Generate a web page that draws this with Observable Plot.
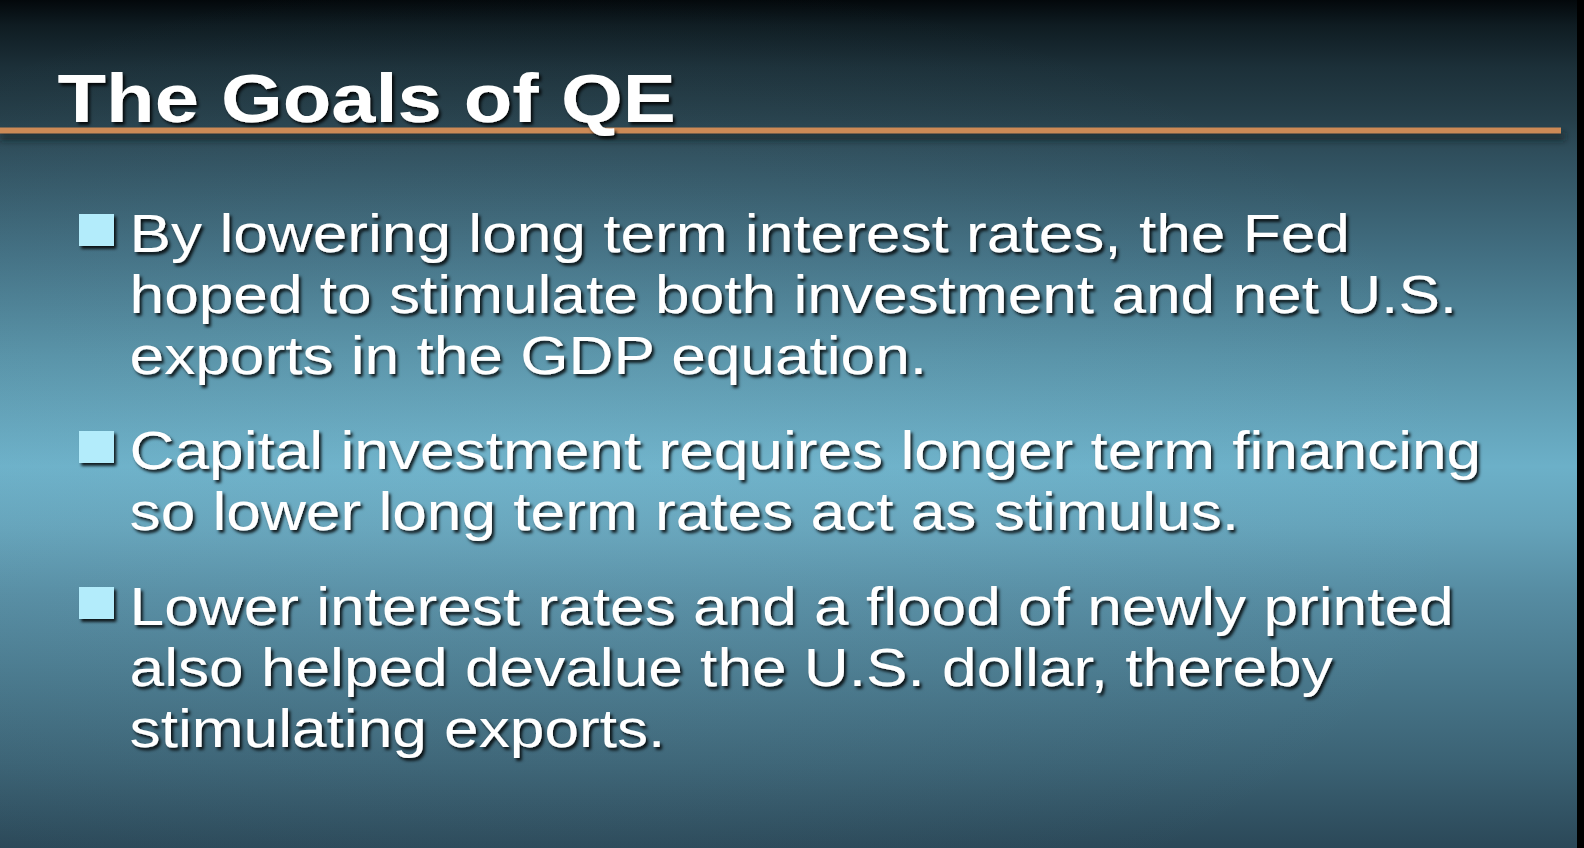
<!DOCTYPE html>
<html>
<head>
<meta charset="utf-8">
<script src="https://cdn.jsdelivr.net/npm/d3@7"></script>
<script src="https://cdn.jsdelivr.net/npm/@observablehq/plot@0.6"></script>
<style>
  html, body { margin: 0; padding: 0; background: #000; overflow: hidden; }
  #slide svg { display: block; }
</style>
</head>
<body>
<div id="slide"></div>
<script>
// ---- content ----
const title = "The Goals of QE";
const bullet1 = [
  "By lowering long term interest rates, the Fed",
  "hoped to stimulate both investment and net U.S.",
  "exports in the GDP equation."
];
const bullet2 = [
  "Capital investment requires longer term financing",
  "so lower long term rates act as stimulus."
];
const bullet3 = [
  "Lower interest rates and a flood of newly printed",
  "also helped devalue the U.S. dollar, thereby",
  "stimulating exports."
];
const bullets = [bullet1, bullet2, bullet3];

// background gradient (top to bottom)
const bgOffsets = [0, 0.03, 0.08, 0.14, 0.18, 0.30, 0.42, 0.55, 0.62, 0.70, 0.80, 0.90, 1];
const bgColors = ["#03080b", "#0f1c22", "#1c3039", "#263f4a", "#2f4e5c", "#426f82", "#5791a6",
                  "#6cb0c8", "#65a3ba", "#568ca2", "#48778b", "#3b6274", "#2b4858"];

// ---- layout ----
const PAGE_W = 1584, PAGE_H = 848;
const STRETCH = 1.152;              // the slide is shown horizontally stretched
const W = Math.round(PAGE_W / STRETCH);
const SLIDE_RIGHT = 1577;
const FIRST_BASELINE = 251, LINE_STEP = 61, PARA_GAP = 34;

const lines = [];
const squares = [];
let yb = FIRST_BASELINE;
bullets.forEach((b, bi) => {
  squares.push({bullet: bi, base: yb});
  b.forEach((t, li) => {
    lines.push({bullet: bi, line: li, text: t, base: yb});
    yb += LINE_STEP;
  });
  yb += PARA_GAP;
});

const defs = () => {
  const d = d3.create("svg:defs");
  const lg = d.append("linearGradient").attr("id", "bg")
    .attr("x1", 0).attr("x2", 0).attr("y1", 0).attr("y2", 1);
  bgOffsets.forEach((o, i) => lg.append("stop").attr("offset", o).attr("stop-color", bgColors[i]));
  const rg = d.append("radialGradient").attr("id", "glow")
    .attr("cx", 0.35).attr("cy", 0.56).attr("r", 0.6);
  rg.append("stop").attr("offset", 0).attr("stop-color", "#9fd8ea").attr("stop-opacity", 0.10);
  rg.append("stop").attr("offset", 1).attr("stop-color", "#9fd8ea").attr("stop-opacity", 0);
  const f = d.append("filter").attr("id", "shadow").attr("filterUnits", "userSpaceOnUse")
    .attr("x", 0).attr("y", 0).attr("width", W).attr("height", PAGE_H);
  f.append("feDropShadow").attr("dx", 2).attr("dy", 2.8).attr("stdDeviation", 1.4)
    .attr("flood-color", "#000").attr("flood-opacity", 0.85);
  const fb = d.append("filter").attr("id", "blur").attr("filterUnits", "userSpaceOnUse")
    .attr("x", 0).attr("y", 100).attr("width", W).attr("height", 80);
  fb.append("feGaussianBlur").attr("stdDeviation", 3);
  return d.node();
};

const fontFamily = "'Liberation Sans', Arial, Helvetica, sans-serif";

const svg = Plot.plot({
  width: W,
  height: PAGE_H,
  margin: 0,
  x: {type: "linear", domain: [0, PAGE_W], range: [0, W], axis: null},
  y: {type: "linear", domain: [0, PAGE_H], range: [0, PAGE_H], axis: null},
  style: {background: "#000"},
  marks: [
    defs,
    Plot.rect([0], {x1: 0, x2: SLIDE_RIGHT, y1: 0, y2: PAGE_H, fill: "url(#bg)"}),
    Plot.rect([0], {x1: 0, x2: SLIDE_RIGHT, y1: 0, y2: PAGE_H, fill: "url(#glow)"}),
    // shadow of the orange rule
    Plot.ruleY([136], {x1: 0, x2: SLIDE_RIGHT - 12, stroke: "#0b1a22", strokeWidth: 8, strokeOpacity: 0.6, ariaDescription: "rule-shadow"}),
    Plot.ruleY([130], {x1: 0, x2: SLIDE_RIGHT - 16, stroke: "#cd8a56", strokeWidth: 6}),
    Plot.text([title], {
      x: 57, y: 121, text: d => d, textAnchor: "start", lineAnchor: "bottom",
      fontSize: 69, fontWeight: "bold", fontFamily, fill: "#ffffff", ariaDescription: "title"
    }),
    Plot.rect(squares, {
      x1: 79, x2: 114, y1: d => d.base - 37, y2: d => d.base - 5,
      fill: "#b3ecfb", ariaDescription: "bullets"
    }),
    Plot.text(lines, {
      x: 129, y: "base", text: "text", textAnchor: "start", lineAnchor: "bottom",
      fontSize: 54, fontFamily, fill: "#ffffff", ariaDescription: "body"
    })
  ]
});

svg.setAttribute("preserveAspectRatio", "none");
svg.setAttribute("width", PAGE_W);
svg.setAttribute("height", PAGE_H);
svg.style.width = PAGE_W + "px";
svg.style.height = PAGE_H + "px";
svg.style.maxWidth = "none";
svg.querySelectorAll('g[aria-description="title"], g[aria-description="body"], g[aria-description="bullets"]')
  .forEach(g => g.setAttribute("filter", "url(#shadow)"));
svg.querySelectorAll('g[aria-description="rule-shadow"]').forEach(g => g.setAttribute("filter", "url(#blur)"));
document.getElementById("slide").appendChild(svg);
</script>
</body>
</html>
